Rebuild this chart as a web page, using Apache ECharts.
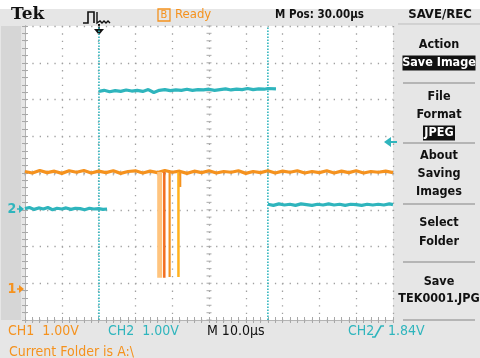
<!DOCTYPE html>
<html><head><meta charset="utf-8">
<script src="https://cdn.jsdelivr.net/npm/echarts@6/dist/echarts.min.js"></script>
<style>html,body{margin:0;padding:0;background:#e6e6e6}#c{width:480px;height:358px}</style>
</head><body><div id="c"></div>
<script>
// CH1 (orange) trace, in divisions (x: 0..10, y: 0..8)
const ch1Trace = [[0.0,4.04],[0.2,4.00],[0.4,4.07],[0.6,4.01],[0.8,4.05],[1.0,3.99],[1.2,4.06],[1.4,4.02],[1.6,4.07],[1.8,4.00],[2.0,4.05],[2.2,4.01],[2.4,4.06],[2.6,3.99],[2.8,4.04],[3.0,4.06],[3.2,4.00],[3.4,4.05],[3.6,4.01],[3.8,4.07],[4.0,4.02],[4.2,4.05],[4.4,3.99],[4.6,4.05],[4.8,4.01],[5.0,4.06],[5.2,4.00],[5.4,4.04],[5.6,4.02],[5.8,4.06],[6.0,3.99],[6.2,4.04],[6.4,4.01],[6.6,4.06],[6.8,4.00],[7.0,4.05],[7.2,4.02],[7.4,4.06],[7.6,4.00],[7.8,4.04],[8.0,4.01],[8.2,4.06],[8.4,4.00],[8.6,4.05],[8.8,4.01],[9.0,4.06],[9.2,4.00],[9.4,4.04],[9.6,4.02],[9.8,4.05],[10.0,4.01]];
// CH1 glitch pulses
const pulseX = [3.66, 3.785, 3.93, 4.17, 4.22];
const pulseTop = [4.03, 4.03, 4.03, 4.03, 4.03];
const pulseBottom = [1.15, 1.15, 1.17, 1.17, 3.62];
// CH2 (cyan) trace pieces
const ch2Before = [[0,3.03],[0.12,3.06],[0.25,3.01],[0.37,3.05],[0.5,3.02],[0.62,3.06],[0.75,3.00],[0.87,3.04],[1.0,3.02],[1.12,3.05],[1.25,3.01],[1.37,3.04],[1.5,3.03],[1.62,3.00],[1.75,3.04],[1.87,3.02],[2.0,3.03],[2.12,3.01],[2.23,3.02]];
const ch2High = [[2.01,6.22],[2.15,6.25],[2.3,6.21],[2.45,6.24],[2.6,6.22],[2.75,6.26],[2.9,6.23],[3.05,6.25],[3.2,6.22],[3.35,6.27],[3.5,6.19],[3.65,6.25],[3.8,6.27],[3.95,6.24],[4.1,6.26],[4.25,6.25],[4.4,6.28],[4.55,6.25],[4.7,6.27],[4.85,6.26],[5.0,6.28],[5.15,6.25],[5.3,6.27],[5.45,6.29],[5.6,6.26],[5.75,6.28],[5.9,6.27],[6.05,6.30],[6.2,6.27],[6.35,6.29],[6.5,6.28],[6.6,6.30],[6.82,6.29]];
const ch2After = [[6.6,3.15],[6.75,3.12],[6.9,3.16],[7.05,3.13],[7.2,3.15],[7.35,3.12],[7.5,3.16],[7.65,3.14],[7.8,3.12],[7.95,3.15],[8.1,3.13],[8.25,3.16],[8.4,3.13],[8.55,3.15],[8.7,3.12],[8.85,3.15],[9.0,3.14],[9.15,3.12],[9.3,3.15],[9.45,3.13],[9.6,3.15],[9.75,3.13],[9.9,3.16],[10,3.14]];
const cursorX = [2.01, 6.60];
// texts
const menuTitle = 'SAVE/REC';
const menuItems = [['Action',45,false],['Save Image',63,true],['File',97,false],['Format',115,false],['JPEG',133,true],['About',156,false],['Saving',174,false],['Images',192,false],['Select',223,false],['Folder',242,false],['Save',282,false],['TEK0001.JPG',299,false]];
const separatorsY = [83,143,204,262,320];

const ORANGE = '#f5921e', CYAN = '#2fb5bd';
const FONT = '"DejaVu Sans Condensed","Liberation Sans Narrow",sans-serif';

// detect narrow font
const cv = document.createElement('canvas').getContext('2d');
cv.font = '20px monospace'; const wMono = cv.measureText('Action Image').width;
cv.font = '20px "Liberation Sans Narrow", monospace'; const wNar = cv.measureText('Action Image').width;
const hasNarrow = Math.abs(wMono - wNar) > 1;
const MENU_FONT = hasNarrow ? 'bold 15px "Liberation Sans Narrow",sans-serif' : 'bold 12.5px "DejaVu Sans Condensed",sans-serif';
const TITLE_FONT = hasNarrow ? 'bold 15.5px "Liberation Sans Narrow",sans-serif' : 'bold 13px "DejaVu Sans Condensed",sans-serif';
const MPOS_FONT = hasNarrow ? 'bold 15px "Liberation Sans Narrow",sans-serif' : 'bold 11.5px "DejaVu Sans Condensed",sans-serif';

const chart = echarts.init(document.getElementById('c'), null, {renderer:'canvas'});

const centerV = [], centerH = [];
for (let i = 0; i <= 40; i++) centerV.push([5, i*0.2]);
for (let i = 0; i <= 50; i++) centerH.push([i*0.2, 4]);

function axisCommon(pos, min, max, split) {
  return {
    type:'value', min:min, max:max, interval:1, position:pos,
    axisLine:{show:true, lineStyle:{color:'#b4b4b4', width:1}},
    axisTick:{show:true, inside:true, length:3, lineStyle:{color:'#a8a8a8'}},
    minorTick:{show:true, splitNumber:5, length:3, lineStyle:{color:'#a8a8a8'}},
    axisLabel:{show:false},
    splitLine:{show:split, lineStyle:{color:'#a0a0a0', width:1.3, type:[1.3,6.05]}},
    minorSplitLine:{show:false}
  };
}

const series = [];
series.push({type:'scatter', data:centerV, symbol:'rect', symbolSize:[5,1.2], itemStyle:{color:'#a8a8a8'}, silent:true, z:1});
series.push({type:'scatter', data:centerH, symbol:'rect', symbolSize:[1.2,5], itemStyle:{color:'#a8a8a8'}, silent:true, z:1});
cursorX.forEach(function(cx){
  series.push({type:'line', data:[[cx,0],[cx,8]], symbol:'none', silent:true, z:2,
    lineStyle:{color:CYAN, width:1.6, type:[1.5,1.5]}});
});
series.push({type:'line', data:ch1Trace, symbol:'none', lineStyle:{color:ORANGE, width:3.2}, z:3});
const pulseColors = ['#ffc47e', '#f26f21', '#f5921e', '#ffb21e', '#f5921e'];
const pulseWidths = [5, 2.5, 2.2, 2.5, 2];
pulseX.forEach(function(px, i){
  series.push({type:'line', data:[[px,pulseTop[i]],[px,pulseBottom[i]]], symbol:'none', silent:true, z:4,
    lineStyle:{color:pulseColors[i], width:pulseWidths[i]}});
});
[ch2Before, ch2High, ch2After].forEach(function(d){
  series.push({type:'line', data:d, symbol:'none', lineStyle:{color:CYAN, width:3.2}, z:5});
});

const graphic = [];
graphic.push({type:'rect', shape:{x:0,y:0,width:480,height:9}, style:{fill:'#ffffff'}, z:-5});
graphic.push({type:'rect', shape:{x:1,y:26,width:20,height:294}, style:{fill:'#d6d6d6'}, z:-5});
graphic.push({type:'text', x:11, y:15, style:{text:'Tek', font:'bold 17px "DejaVu Serif","Liberation Serif",serif', fill:'#111', verticalAlign:'middle'}});
graphic.push({type:'polyline', shape:{points:[[83,23],[88,23],[88,12],[94,12],[94,23]]}, style:{stroke:'#111', lineWidth:1.6, fill:null}});
graphic.push({type:'polyline', shape:{points:[[97,12],[97,23],[100,21],[102,23],[104,21],[106,23],[108,21],[110,23]]}, style:{stroke:'#111', lineWidth:1.4, fill:null}});
graphic.push({type:'line', shape:{x1:99,y1:24,x2:99,y2:30}, style:{stroke:'#111', lineWidth:2}});
graphic.push({type:'polygon', shape:{points:[[94,29],[104,29],[99,35]]}, style:{fill:'#111'}});
graphic.push({type:'rect', shape:{x:158,y:9,width:12,height:12}, style:{fill:null, stroke:ORANGE, lineWidth:1.3}});
graphic.push({type:'text', x:164, y:15.5, style:{text:'B', font:'11px '+FONT, fill:ORANGE, align:'center', verticalAlign:'middle'}});
graphic.push({type:'text', x:175, y:15, style:{text:'Ready', font:'13px '+FONT, fill:ORANGE, verticalAlign:'middle'}});
graphic.push({type:'text', x:275, y:15, style:{text:'M Pos: 30.00\u00b5s', font:MPOS_FONT, fill:'#111', verticalAlign:'middle'}});
graphic.push({type:'text', x:440, y:15, style:{text:menuTitle, font:TITLE_FONT, fill:'#111', align:'center', verticalAlign:'middle'}});
graphic.push({type:'line', shape:{x1:398,y1:24,x2:480,y2:24}, style:{stroke:'#bdbdbd', lineWidth:1}});
menuItems.forEach(function(m){
  if (m[2]) {
    const w = m[0].length > 5 ? 73 : 32;
    graphic.push({type:'rect', shape:{x:439-w/2, y:m[1]-7.5, width:w, height:15}, style:{fill:'#111'}});
  }
  graphic.push({type:'text', x:439, y:m[1], style:{text:m[0], font:MENU_FONT, fill:m[2]?'#fff':'#111', align:'center', verticalAlign:'middle'}});
});
separatorsY.forEach(function(y){
  graphic.push({type:'line', shape:{x1:403,y1:y,x2:475,y2:y}, style:{stroke:'#a5a5a5', lineWidth:1.5}});
});
graphic.push({type:'text', x:12, y:209, style:{text:'2', font:'bold 14px '+FONT, fill:CYAN, align:'center', verticalAlign:'middle'}});
graphic.push({type:'polygon', shape:{points:[[19,205],[24,209],[19,213]]}, style:{fill:CYAN}});
graphic.push({type:'line', shape:{x1:17,y1:209,x2:21,y2:209}, style:{stroke:CYAN, lineWidth:1.5}});
graphic.push({type:'text', x:12, y:289, style:{text:'1', font:'bold 14px '+FONT, fill:ORANGE, align:'center', verticalAlign:'middle'}});
graphic.push({type:'polygon', shape:{points:[[19,285],[24,289],[19,293]]}, style:{fill:ORANGE}});
graphic.push({type:'line', shape:{x1:17,y1:289,x2:21,y2:289}, style:{stroke:ORANGE, lineWidth:1.5}});
graphic.push({type:'polygon', shape:{points:[[384,142],[391,137],[391,147]]}, style:{fill:CYAN}});
graphic.push({type:'line', shape:{x1:390,y1:142,x2:397,y2:142}, style:{stroke:CYAN, lineWidth:2}});
graphic.push({type:'text', x:8, y:331, style:{text:'CH1  1.00V', font:'14px '+FONT, fill:ORANGE, verticalAlign:'middle'}});
graphic.push({type:'text', x:108, y:331, style:{text:'CH2  1.00V', font:'14px '+FONT, fill:CYAN, verticalAlign:'middle'}});
graphic.push({type:'text', x:207, y:331, style:{text:'M 10.0\u00b5s', font:'14px '+FONT, fill:'#111', verticalAlign:'middle'}});
graphic.push({type:'text', x:348, y:331, style:{text:'CH2', font:'14px '+FONT, fill:CYAN, verticalAlign:'middle'}});
graphic.push({type:'polyline', shape:{points:[[372,337],[375,337],[381,326],[384,326]]}, style:{stroke:CYAN, lineWidth:1.6, fill:null}});
graphic.push({type:'text', x:388, y:331, style:{text:'1.84V', font:'14px '+FONT, fill:CYAN, verticalAlign:'middle'}});
graphic.push({type:'text', x:9, y:352, style:{text:'Current Folder is A:\\', font:'14px '+FONT, fill:ORANGE, verticalAlign:'middle'}});

chart.setOption({
  animation:false,
  backgroundColor:'#e6e6e6',
  grid:{left:25, right:87, top:26, bottom:38, show:true, backgroundColor:'#ffffff', borderWidth:0},
  xAxis:[axisCommon('bottom',0,10,true), axisCommon('top',0,10,false)],
  yAxis:[axisCommon('left',0,8,true), axisCommon('right',0,8,false)],
  series:series,
  graphic:graphic
});
</script></body></html>
